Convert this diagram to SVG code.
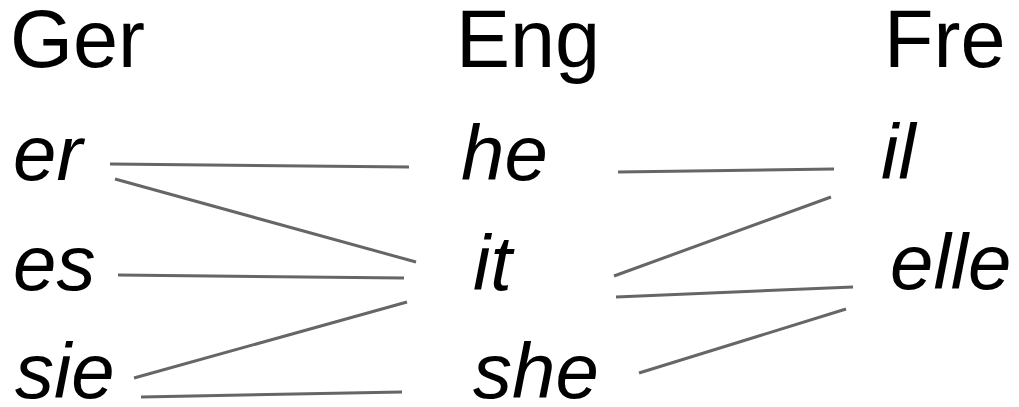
<svg xmlns="http://www.w3.org/2000/svg" width="1019" height="407" viewBox="0 0 1019 407">
<style>
text{font-family:"Liberation Sans",Arial,sans-serif;font-size:78px;fill:#000}
.h{font-size:81px}
.w{font-style:italic}
.c line{stroke:#666;stroke-width:3;stroke-linecap:butt}
</style>
<rect width="1019" height="407" fill="#fff"/>
<g id="hdr-ger"><text class="h" x="10" y="67">Ger</text></g>
<g id="hdr-eng"><text class="h" x="456" y="67">Eng</text></g>
<g id="hdr-fre"><text class="h" x="884" y="67">Fre</text></g>
<g id="ger-er"><text class="w" x="13" y="180">er</text></g>
<g id="ger-es"><text class="w" x="13" y="290">es</text></g>
<g id="ger-sie"><text class="w" x="15" y="398">sie</text></g>
<g id="eng-he"><text class="w" x="461" y="180">he</text></g>
<g id="eng-it"><text class="w" x="473" y="290">it</text></g>
<g id="eng-she"><text class="w" x="473" y="398">she</text></g>
<g id="fre-il"><text class="w" x="881" y="179">il</text></g>
<g id="fre-elle"><text class="w" x="890" y="289">elle</text></g>
<g class="c" id="connectors">
<line x1="110" y1="164" x2="409" y2="167"/>
<line x1="115" y1="179" x2="416" y2="262"/>
<line x1="118" y1="275" x2="404" y2="278"/>
<line x1="134" y1="378" x2="407" y2="302"/>
<line x1="141" y1="397" x2="402" y2="392"/>
<line x1="618" y1="172" x2="834" y2="169"/>
<line x1="614" y1="276" x2="831" y2="197"/>
<line x1="616" y1="297" x2="853" y2="287"/>
<line x1="639" y1="373" x2="846" y2="309"/>
</g>
</svg>
